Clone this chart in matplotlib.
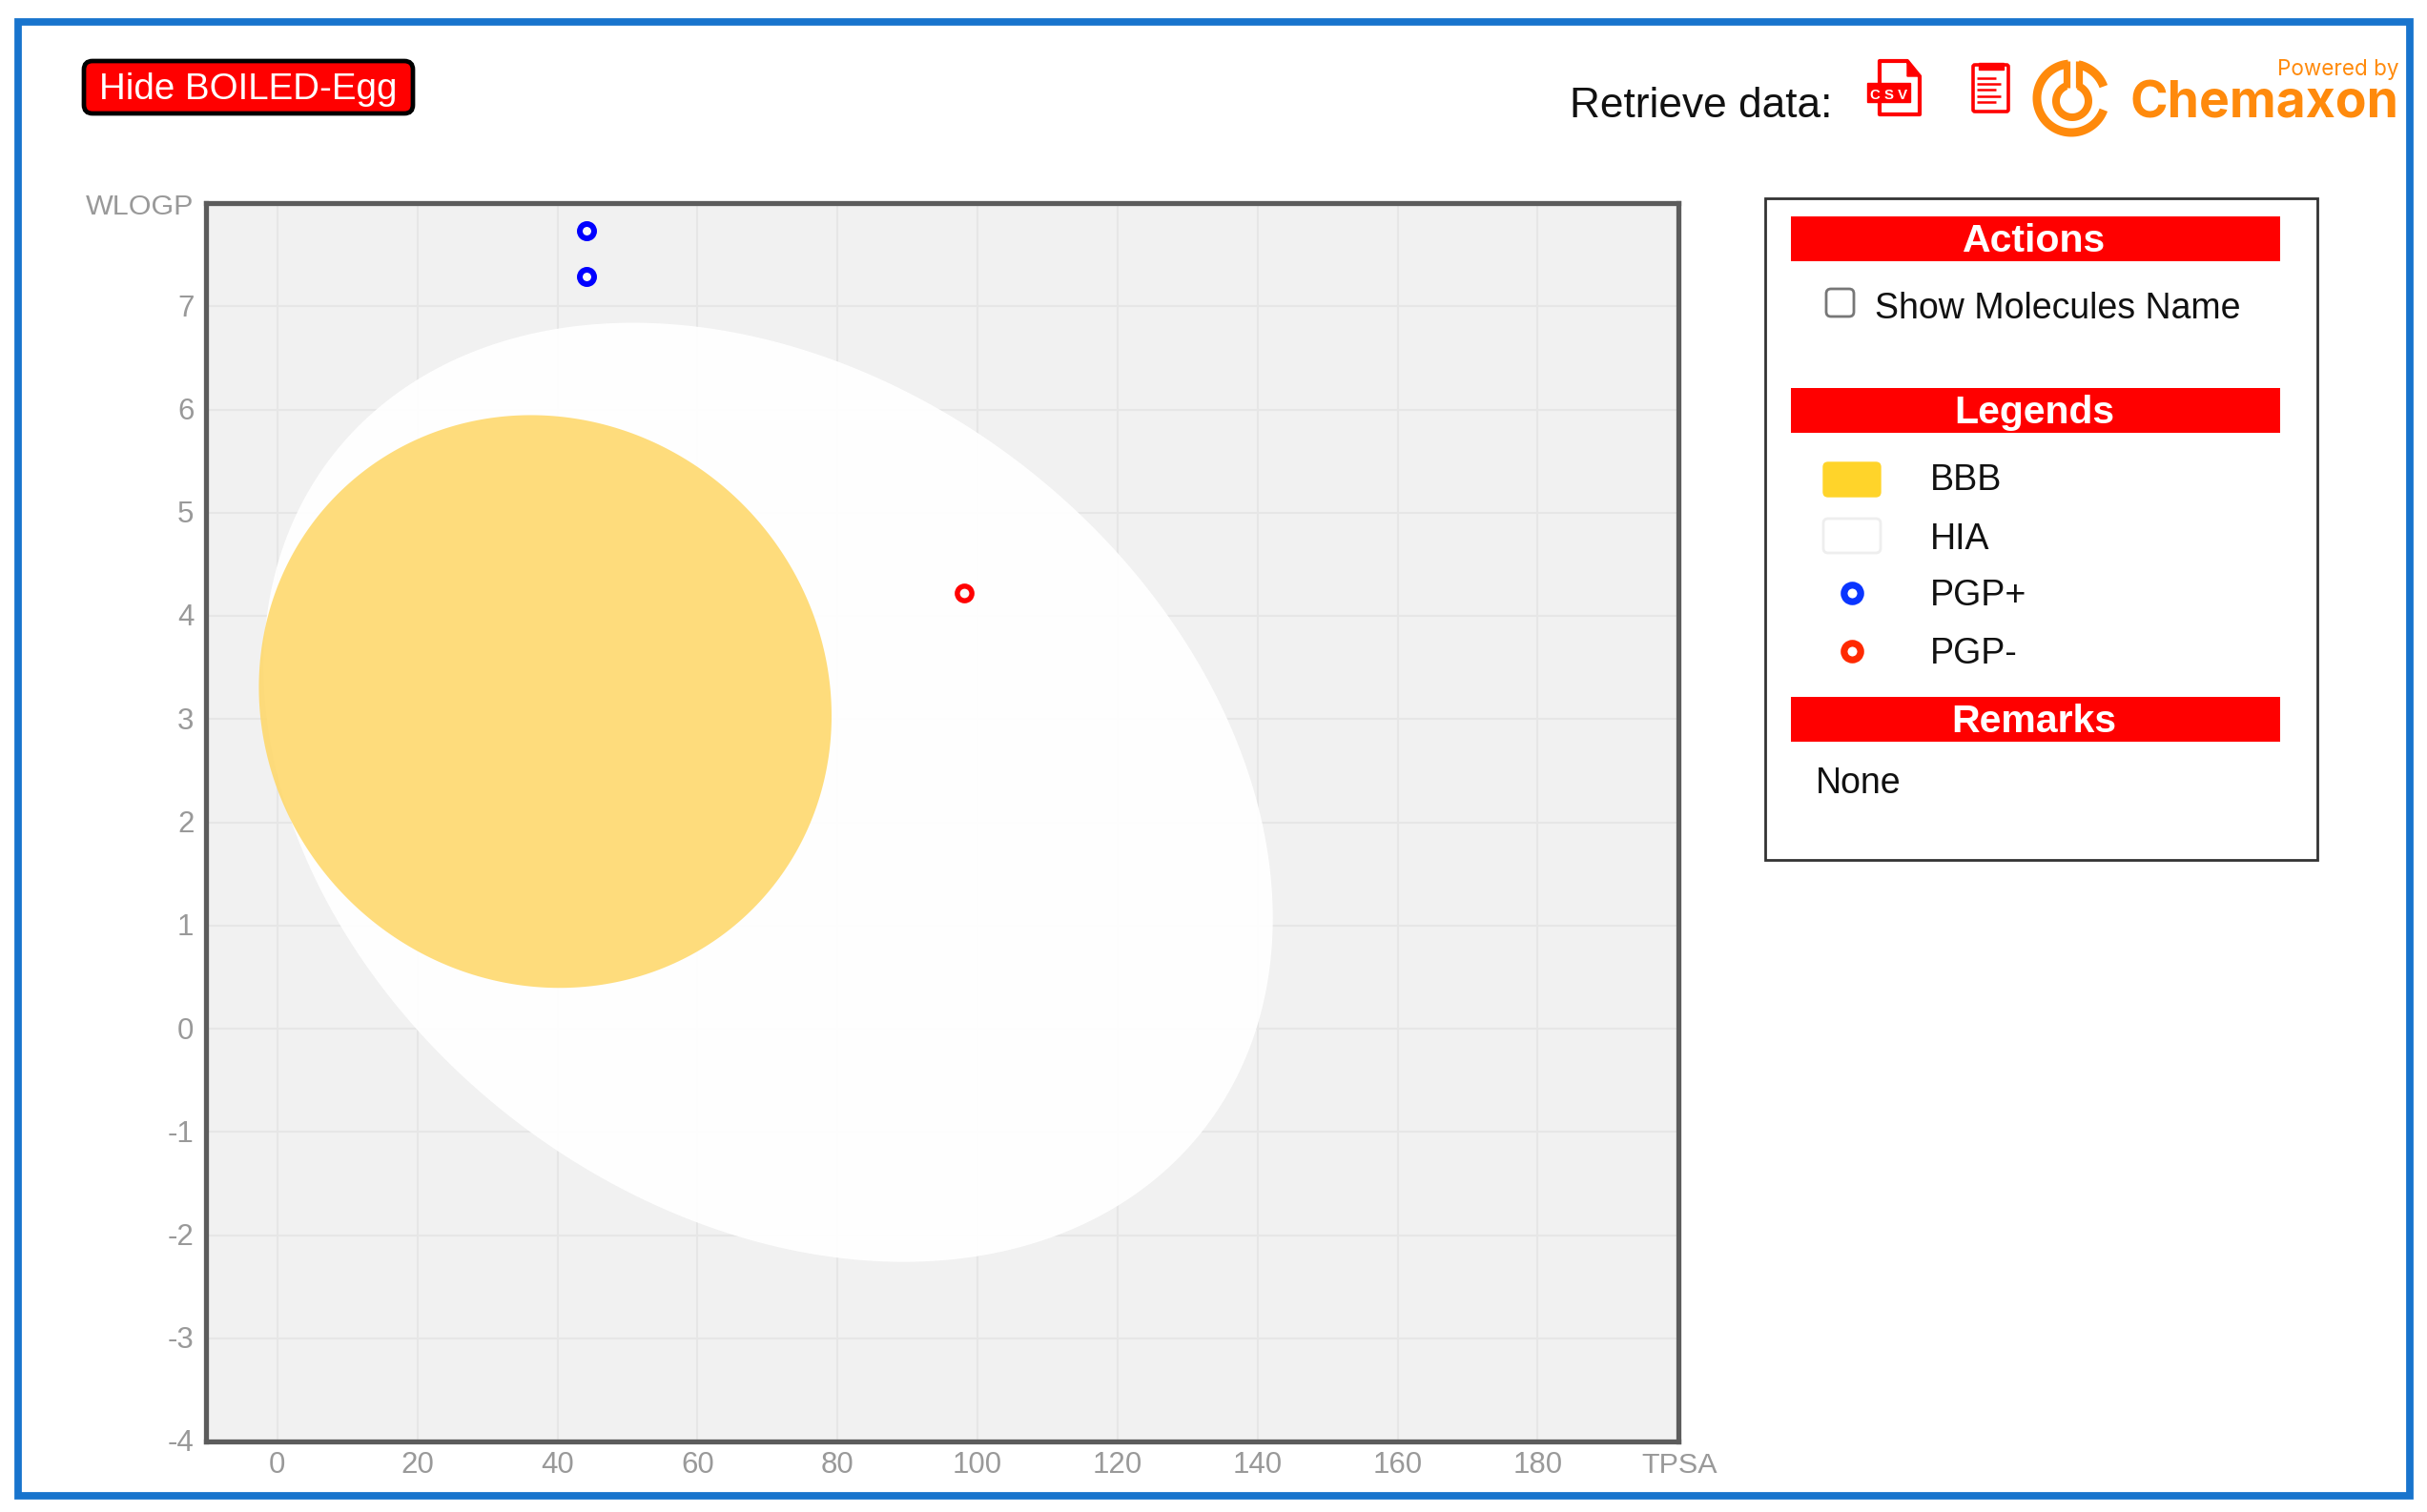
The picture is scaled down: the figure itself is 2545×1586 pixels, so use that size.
import numpy as np
import matplotlib
matplotlib.use("Agg")
import matplotlib.pyplot as plt
from matplotlib.patches import Rectangle, FancyBboxPatch, Polygon
from matplotlib.transforms import ScaledTranslation

plt.rcParams['font.family'] = ['Liberation Sans', 'DejaVu Sans']
plt.rcParams['axes.unicode_minus'] = False

W, H = 2545, 1586
# data
x_ticks = [0, 20, 40, 60, 80, 100, 120, 140, 160, 180]
y_ticks = [-4, -3, -2, -1, 0, 1, 2, 3, 4, 5, 6, 7]
x_axis_name = "TPSA"
y_axis_name = "WLOGP"
pgp_plus_tpsa = [44.2, 44.2]
pgp_plus_wlogp = [7.73, 7.29]
pgp_minus_tpsa = [98.1]
pgp_minus_wlogp = [4.22]
# ellipse regions: centre, half-extent in each variable, correlation
hia_center = (70.1, 2.29)
hia_extent = (72.07, 4.55)
hia_rho = -0.268
bbb_center = (38.25, 3.17)
bbb_extent = (40.9, 2.775)
bbb_rho = -0.05
legend_labels = ["BBB", "HIA", "PGP+", "PGP-"]

BLUE = "#0000ff"
RED = "#ff0000"
ORANGE = "#ff8a0c"
GREY = "#999999"

fig = plt.figure(figsize=(W / 100, H / 100), dpi=100, facecolor="white")

# overlay in pixel coordinates
ov = fig.add_axes([0, 0, 1, 1], zorder=0)
ov.set_xlim(0, W); ov.set_ylim(H, 0); ov.axis("off")

def T(x, y, s, px, color="black", ha="left", va="baseline", **kw):
    ov.text(x, y, s, fontsize=px / 100 * 72, color=color, ha=ha, va=va, **kw)

def arc(cx, cy, r, a0, a1, width, color):
    a = np.radians(np.linspace(a0, a1, 120))
    ov.plot(cx + r * np.cos(a), cy - r * np.sin(a), color=color, lw=width * 0.72,
            solid_capstyle="butt")

# outer blue frame
ov.add_patch(Rectangle((19, 22.5), 2508, 1546, fc="none", ec="#1874cd", lw=5.6))

# button
ov.add_patch(FancyBboxPatch((88, 64), 345, 55, boxstyle="round,pad=0,rounding_size=9",
                            fc=RED, ec="black", lw=3.4))
T(104, 104, "Hide BOILED-Egg", 38.5, "white")

# header
T(1646, 123, "Retrieve data:", 44.3, "#111111")

# CSV icon
ov.add_patch(Polygon([[1971, 64], [2000, 64], [2013, 80], [2013, 120], [1971, 120]],
                     closed=True, fc="white", ec=RED, lw=3, joinstyle="round"))
ov.add_patch(Polygon([[2000, 64], [2013, 80], [2000, 80]], closed=True, fc=RED, ec=RED, lw=1))
ov.add_patch(Rectangle((1958, 87), 45, 20, fc=RED, ec=RED, lw=1))
T(1980.5, 104, "C S V", 15, "white", ha="center", fontweight="bold")
# report icon
ov.add_patch(FancyBboxPatch((2069, 68), 37, 49, boxstyle="round,pad=0,rounding_size=2",
                            fc="white", ec=RED, lw=2.6))
ov.add_patch(Rectangle((2075, 66), 26, 7, fc=RED, ec=RED, lw=1))
for yy, xe in zip([82, 88, 94, 101, 107], [2093, 2098, 2093, 2098, 2093]):
    ov.plot([2073, xe], [yy, yy], color=RED, lw=1.8, solid_capstyle="butt")

# logo
arc(2172, 103, 36, 95, 340, 9, ORANGE)
arc(2172, 103, 36, 78, 20, 9, ORANGE)
arc(2173, 106, 17, 112, 428, 8, ORANGE)
ov.plot([2166.5, 2166.5], [64, 92], color=ORANGE, lw=5.2, solid_capstyle="butt")
ov.plot([2180, 2180], [64, 92], color=ORANGE, lw=5.2, solid_capstyle="butt")
T(2515, 78.5, "Powered by", 22.5, ORANGE, ha="right", family=["Inter", "DejaVu Sans"])
T(2516, 123.5, "Chemaxon", 53.5, ORANGE, ha="right", family=["Inter", "DejaVu Sans"], fontweight="bold")

# side panel
ov.add_patch(Rectangle((1851, 208), 579, 694, fc="white", ec="#333333", lw=2))
for yy, label in zip([227, 407, 731], ["Actions", "Legends", "Remarks"]):
    ov.add_patch(Rectangle((1878, yy), 513, 47, fc=RED, ec="none"))
    T(2133, yy + 37.5, label, 41, "white", ha="center", fontweight="bold")

ov.add_patch(FancyBboxPatch((1915, 303), 29, 29, boxstyle="round,pad=0,rounding_size=5",
                            fc="white", ec="#777777", lw=2))
T(1966, 334.5, "Show Molecules Name", 37.5, "#111111")

# legend
lx = 2024
ov.add_patch(FancyBboxPatch((1912, 485), 60, 36, boxstyle="round,pad=0,rounding_size=5",
                            fc="#ffd42a", ec="#ffd42a", lw=1))
ov.add_patch(FancyBboxPatch((1912, 544), 60, 36, boxstyle="round,pad=0,rounding_size=5",
                            fc="white", ec="#eeeeee", lw=2))
ys = [515, 577, 636, 697]
for yy, lab in zip(ys, legend_labels):
    T(lx, yy - 1, lab, 37.5, "#111111")
ov.plot([1942], [622], "o", ms=12.5, mfc="white", mec="#0a35ff", mew=5.2)
ov.plot([1942], [683], "o", ms=12.5, mfc="white", mec="#ff2a00", mew=5.2)
T(1904, 832, "None", 37.5, "#111111")

# main chart
L, R, TOP, BOT = 216, 1760, 213, 1512
ax = fig.add_axes([L / W, 1 - BOT / H, (R - L) / W, (BOT - TOP) / H], zorder=2)
ax.set_xlim(-10.2, 200.1)
ax.set_ylim(-4, 8)
ax.set_facecolor("#f1f1f1")
for s in ax.spines.values():
    s.set_color("#5c5c5c"); s.set_linewidth(3.8)
ax.set_xticks(x_ticks)
ax.set_yticks(y_ticks)
ax.tick_params(length=0, labelsize=22.5, labelcolor=GREY)
ax.tick_params(axis="x", pad=7)
ax.tick_params(axis="y", pad=9)
up = ScaledTranslation(0, 1 / 100, fig.dpi_scale_trans)
for lab in ax.get_yticklabels():
    lab.set_transform(lab.get_transform() + up)
ax.grid(True, color="#e6e6e6", lw=1.5, zorder=1)
ax.set_axisbelow(True)

t = np.linspace(0, 2 * np.pi, 400)
def region(center, extent, rho):
    return (center[0] + extent[0] * np.cos(t),
            center[1] + extent[1] * (rho * np.cos(t) + np.sqrt(1 - rho ** 2) * np.sin(t)))

ax.fill(*region(hia_center, hia_extent, hia_rho), color="white", alpha=0.96, lw=0, zorder=2)
ax.fill(*region(bbb_center, bbb_extent, bbb_rho), color="#ffd765", alpha=0.85, lw=0, zorder=3)
ax.plot(pgp_plus_tpsa, pgp_plus_wlogp, "o", ms=10.8, mfc="#fafafa", mec=BLUE, mew=4.3, zorder=5, ls="none")
ax.plot(pgp_minus_tpsa, pgp_minus_wlogp, "o", ms=11, mfc="#fafafa", mec=RED, mew=3.9, zorder=5, ls="none")

T(203, 225, y_axis_name, 30.5, GREY, ha="right")
T(1761, 1545, x_axis_name, 30.5, GREY, ha="center")

fig.savefig("out.png", dpi=100)
